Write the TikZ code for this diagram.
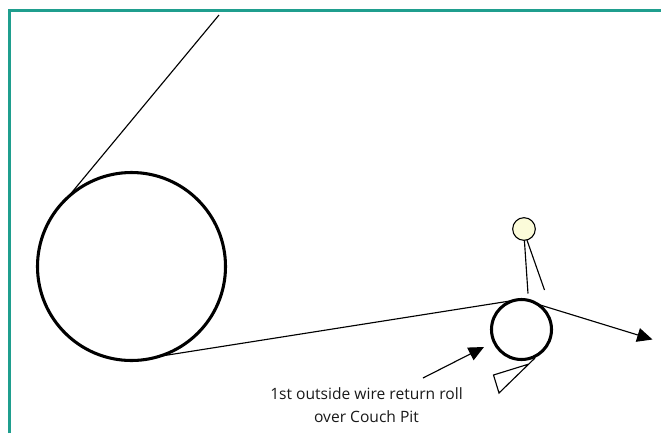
\documentclass[tikz,border=0pt]{standalone}
\usepackage{fontspec}
\setmainfont{Open Sans}
\usetikzlibrary{arrows.meta}
\tikzset{
  roll/.style={circle,draw=black,line width=2.3pt,inner sep=0pt,outer sep=0pt},
  thin line/.style={draw=black,line width=0.85pt},
  wire/.style={thin line,-{Triangle[length=11.5pt,width=10.5pt]}},
  frameline/.style={draw=frameteal,line width=2.4pt},
  label/.style={align=center,font=\fontsize{11.7}{17}\selectfont,text=black!90,inner sep=0pt}
}
\definecolor{frameteal}{HTML}{1F9E8E}
\definecolor{rollyellow}{HTML}{FBFBD9}
\begin{document}
\begin{tikzpicture}[x=0.75pt,y=-0.75pt]
\useasboundingbox (0,0) rectangle (661,433);
\coordinate (fa) at (9.5,433);
\coordinate (fb) at (9.5,10.5);
\coordinate (fc) at (661,10.5);
\draw[frameline,line join=miter] (fa) -- (fb) -- (fc);
\node[roll,minimum size=141pt] (big) at (131.5,266.5) {};
\node[roll,minimum size=45pt] (small) at (521.5,329.5) {};
\node[circle,draw=black,line width=0.8pt,fill=rollyellow,inner sep=0pt,outer sep=0pt,minimum size=17pt] (yellow) at (524,229) {};
\coordinate (top) at (219,15);
\coordinate (doctorA) at (528,293.5);
\coordinate (doctorB) at (544.5,290);
\coordinate (wireend) at (652.5,339.5);
\coordinate (wirestart) at (510,301);
\coordinate (wireleave) at (537,304);
\coordinate (ptrstart) at (423,378);
\coordinate (ptrtip) at (484,347);
\coordinate (tA) at (493.5,375);
\coordinate (tB) at (499,393);
\coordinate (tC) at (535,358);
\coordinate (tD) at (529,364);
\draw[thin line] (top) -- (big.133);
\draw[thin line] (big.-73) -- (wirestart) -- (small.90);
\draw[wire] (wireleave) -- (wireend);
\draw[thin line] (yellow.-88) -- (doctorA);
\draw[thin line] (yellow.-75) -- (doctorB);
\draw[thin line,line join=miter] (tC) -- (tB) -- (tA) -- (tD);
\draw[wire] (ptrstart) -- (ptrtip);
\node[label] (caption) at (366.5,405) {1st outside wire return roll\\over Couch Pit};
\end{tikzpicture}
\end{document}
